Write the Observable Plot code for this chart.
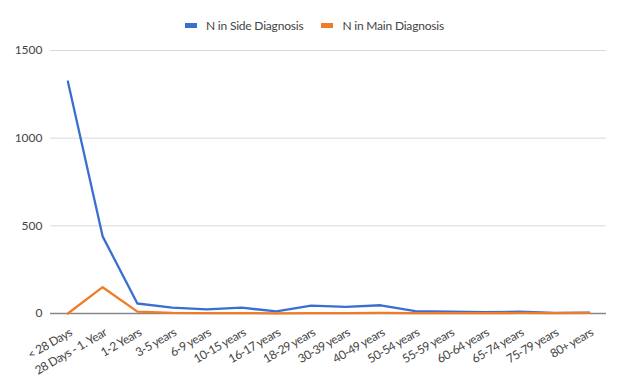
<!DOCTYPE html>
<html>
<head>
<meta charset="utf-8">
<script src="https://cdn.jsdelivr.net/npm/d3@7"></script>
<script src="https://cdn.jsdelivr.net/npm/@observablehq/plot@0.6"></script>
<style>
  html, body { margin: 0; padding: 0; background: #fff; }
  body { width: 624px; height: 385px; overflow: hidden; font-family: Lato, "Open Sans", sans-serif; position: relative; }
  #legend { height: 40px; position: relative; font-size: 12px; letter-spacing: -0.2px; color: #444; }
  #legend .inner { position: absolute; left: 185px; top: 18px; display: flex; align-items: center; gap: 18px; }
  #legend span.item { display: flex; align-items: center; gap: 9px; }
  #legend span.sw { display: inline-block; width: 12px; height: 5px; }
  #chart svg g[aria-label="x-axis tick label"] text { letter-spacing: -0.5px; }
</style>
</head>
<body>
<div id="legend"><div class="inner"></div></div>
<div id="chart"></div>
<script>
const ageGroups = ["< 28 Days", "28 Days - 1. Year", "1-2 Years", "3-5 years", "6-9 years", "10-15 years", "16-17 years", "18-29 years", "30-39 years", "40-49 years", "50-54 years", "55-59 years", "60-64 years", "65-74 years", "75-79 years", "80+ years"];
const sideDiagnosis = [1323, 440, 57, 34, 23, 33, 12, 45, 38, 47, 13, 10, 8, 10, 3, 5];
const mainDiagnosis = [0, 150, 11, 3, 2, 2, 1, 2, 2, 3, 2, 2, 2, 3, 2, 4];
const seriesNames = ["N in Side Diagnosis", "N in Main Diagnosis"];
const seriesColors = ["#3a6fd0", "#f07c28"];
const yTicks = [0, 500, 1000, 1500];

const rows = [];
ageGroups.forEach((g, i) => {
  rows.push({group: g, series: seriesNames[0], value: sideDiagnosis[i]});
  rows.push({group: g, series: seriesNames[1], value: mainDiagnosis[i]});
});

const legend = document.querySelector("#legend .inner");
seriesNames.forEach((n, i) => {
  const it = document.createElement("span");
  it.className = "item";
  it.innerHTML = `<span class="sw" style="background:${seriesColors[i]}"></span><span>${n}</span>`;
  legend.appendChild(it);
});

const chart = Plot.plot({
  width: 624,
  height: 345,
  marginTop: 10,
  marginBottom: 72,
  marginLeft: 50,
  marginRight: 18,
  style: {fontFamily: "Lato, 'Open Sans', sans-serif", fontSize: "12px", color: "#444", background: "#fff"},
  x: {type: "point", domain: ageGroups, padding: 0.5, round: false, label: null},
  y: {domain: [0, 1500], label: null},
  color: {domain: seriesNames, range: seriesColors},
  marks: [
    Plot.gridY(yTicks, {stroke: "#d9d9d9", strokeOpacity: 1, strokeWidth: 1}),
    Plot.ruleY([0], {stroke: "#888", strokeWidth: 1.5}),
    Plot.axisY(yTicks, {tickSize: 0, tickPadding: 8, fontSize: 12, fill: "#444", label: null, tickFormat: d => String(d)}),
    Plot.axisX({tickSize: 0, tickRotate: -30, tickPadding: 18, fontSize: 12, fill: "#444", label: null, textAnchor: "end", dx: 3}),
    Plot.line(rows, {x: "group", y: "value", z: "series", stroke: "series", strokeWidth: 2.3})
  ]
});
document.getElementById("chart").appendChild(chart);
</script>
</body>
</html>
